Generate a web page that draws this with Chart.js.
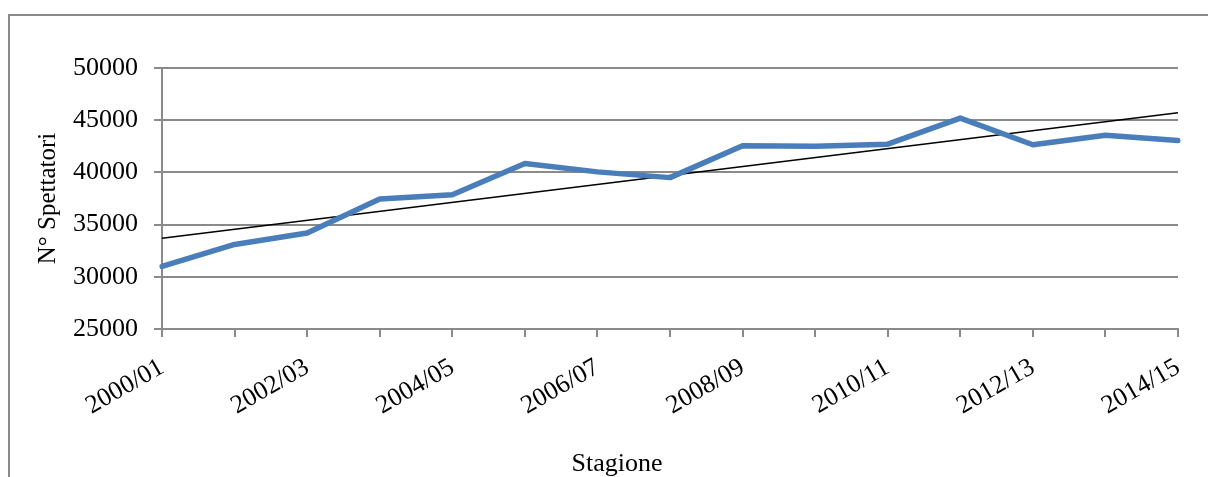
<!DOCTYPE html>
<html>
<head>
<meta charset="utf-8">
<script src="https://cdn.jsdelivr.net/npm/chart.js@4"></script>
<style>
  html, body { margin: 0; padding: 0; background: #fff; }
  #wrap { position: relative; width: 1208px; height: 477px; overflow: hidden; }
  #frame { position: absolute; left: 8px; top: 14px; width: 3000px; height: 3000px; border-top: 2px solid #8a8a8a; border-left: 2px solid #8a8a8a; }
  canvas { position: absolute; left: 0; top: 0; }
</style>
</head>
<body>
<div id="wrap">
  <div id="frame"></div>
  <canvas id="c" width="1208" height="477"></canvas>
</div>
<script>
// Categories (seasons)
const seasons = ['2000/01','2001/02','2002/03','2003/04','2004/05','2005/06','2006/07','2007/08',
                 '2008/09','2009/10','2010/11','2011/12','2012/13','2013/14','2014/15'];
// Spectators per season
const spectators = [31000, 33100, 34200, 37450, 37850, 40850, 40050, 39500,
                    42550, 42500, 42700, 45200, 42650, 43550, 43050];
// Linear trend line end values
const trendFirst = 33700;
const trendLast = 45720;
// Y axis ticks
const yMin = 25000, yMax = 50000, yStep = 5000;

const trend = seasons.map((s, i) => i === 0 ? trendFirst : (i === seasons.length - 1 ? trendLast : null));

const FONT = "'Liberation Serif', 'Times New Roman', serif";
const GRID = '#8a8a8a';

const xTitlePlugin = {
  id: 'xTitle',
  afterDraw(chart) {
    const ctx = chart.ctx;
    ctx.save();
    ctx.font = '26px ' + FONT;
    ctx.fillStyle = '#000';
    ctx.textAlign = 'center';
    ctx.textBaseline = 'alphabetic';
    ctx.fillText('Stagione', 617, 471);
    ctx.restore();
  }
};

new Chart(document.getElementById('c'), {
  type: 'line',
  data: {
    labels: seasons,
    datasets: [
      {
        label: 'N° Spettatori',
        data: spectators,
        borderColor: '#4a7ebb',
        borderWidth: 5.5,
        pointRadius: 0,
        tension: 0,
        borderJoinStyle: 'round',
        borderCapStyle: 'round'
      },
      {
        label: 'Lineare',
        data: trend,
        borderColor: '#000',
        borderWidth: 1.5,
        pointRadius: 0,
        spanGaps: true,
        tension: 0
      }
    ]
  },
  options: {
    responsive: false,
    animation: false,
    devicePixelRatio: 1,
    layout: { padding: { top: 68, right: 30, left: 0, bottom: 0 } },
    plugins: { legend: { display: false }, tooltip: { enabled: false } },
    scales: {
      x: {
        offset: false,
        afterFit: s => { s.height = 148; s.paddingRight = 0; s.paddingLeft = 0; },
        grid: { display: true, drawOnChartArea: false, drawTicks: true, tickLength: 8, color: GRID, lineWidth: 2 },
        border: { display: true, color: GRID, width: 2 },
        ticks: {
          autoSkip: false,
          maxRotation: 30,
          minRotation: 30,
          padding: 15,
          color: '#000',
          font: { family: FONT, size: 26 },
          callback: function(v, i) { return i % 2 === 0 ? this.getLabelForValue(v) : ''; }
        }
      },
      y: {
        min: yMin,
        max: yMax,
        afterFit: s => { s.width = 162; },
        grid: { color: GRID, lineWidth: 2, tickLength: 8 },
        border: { display: true, color: GRID, width: 2 },
        ticks: {
          stepSize: yStep,
          padding: 16,
          color: '#000',
          font: { family: FONT, size: 26 },
          callback: v => String(v)
        },
        title: {
          display: true,
          text: 'N° Spettatori',
          color: '#000',
          font: { family: FONT, size: 25 },
          padding: { top: 33, bottom: 0 }
        }
      }
    }
  },
  plugins: [xTitlePlugin]
});
</script>
</body>
</html>
